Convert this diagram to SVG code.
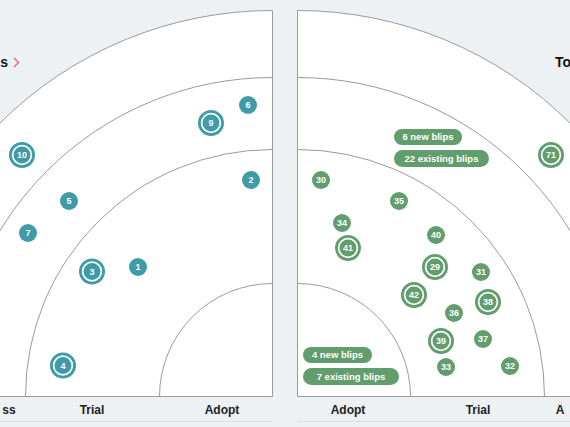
<svg xmlns="http://www.w3.org/2000/svg" width="570" height="427" viewBox="0 0 570 427">
<style>
.bg{fill:#edf1f4}
.panel{fill:#ffffff;stroke:#9a9a9a;stroke-width:1}
.arc{fill:none;stroke:#9a9a9a;stroke-width:1}
.t{fill:#3f9ba8}
.g{fill:#619d6d}
.rt{fill:none;stroke:#3f9ba8;stroke-width:2.8}
.rg{fill:none;stroke:#619d6d;stroke-width:2.8}
.n{font-family:"Liberation Sans",Arial,sans-serif;font-size:9px;font-weight:bold;fill:#ffffff;text-anchor:middle}
.pt{font-family:"Liberation Sans",Arial,sans-serif;font-size:9.5px;font-weight:bold;fill:#ffffff;text-anchor:middle}
.lbl{font-family:"Liberation Sans",Arial,sans-serif;font-size:12px;font-weight:bold;fill:#222222;text-anchor:middle}
.title{font-family:"Liberation Sans",Arial,sans-serif;font-size:14px;font-weight:bold;fill:#111111}
</style>
<rect class="bg" x="0" y="0" width="570" height="427"/>
<line x1="0" y1="421.5" x2="272" y2="421.5" stroke="#dde1e5" stroke-width="1"/>
<line x1="298" y1="421.5" x2="570" y2="421.5" stroke="#dde1e5" stroke-width="1"/>

<g id="quadrant-left">
<path class="panel" d="M272.5,396.5 L-113.5,396.5 A386,386 0 0 1 272.5,10.5 Z"/>
<path class="arc" d="M-46.5,396.5 A319,319 0 0 1 272.5,77.5"/>
<path class="arc" d="M25.5,396.5 A247,247 0 0 1 272.5,149.5"/>
<path class="arc" d="M159.5,396.5 A113,113 0 0 1 272.5,283.5"/>
</g>
<g id="quadrant-right">
<path class="panel" d="M297.5,396.5 L297.5,10.5 A386,386 0 0 1 683.5,396.5 Z"/>
<path class="arc" d="M297.5,77.5 A319,319 0 0 1 616.5,396.5"/>
<path class="arc" d="M297.5,149.5 A247,247 0 0 1 544.5,396.5"/>
<path class="arc" d="M297.5,283.5 A113,113 0 0 1 410.5,396.5"/>
</g>

<g id="title-left">
<text class="title" x="8" y="67" text-anchor="end">s</text>
<polyline points="14,58 18.5,62.5 14,67" fill="none" stroke="#e8607a" stroke-width="1.4"/>
</g>
<g id="title-right">
<text class="title" x="555" y="67">To</text>
</g>

<g id="ring-labels">
<text class="lbl" x="9" y="414" text-anchor="end">ss</text>
<text class="lbl" x="92" y="414">Trial</text>
<text class="lbl" x="222" y="414">Adopt</text>
<text class="lbl" x="348" y="414">Adopt</text>
<text class="lbl" x="478" y="414">Trial</text>
<text class="lbl" x="560" y="414" text-anchor="start">A</text>
</g>

<g id="connectors"></g>

<g id="blip-6"><circle class="t" cx="248" cy="105" r="9"/><text class="n" x="248" y="108.3">6</text></g>
<g id="blip-9"><circle class="rt" cx="211" cy="123" r="11.6"/><circle class="t" cx="211" cy="123" r="8.5"/><text class="n" x="211" y="126.3">9</text></g>
<g id="blip-10"><circle class="rt" cx="22" cy="155" r="11.6"/><circle class="t" cx="22" cy="155" r="8.5"/><text class="n" x="22" y="158.3">10</text></g>
<g id="blip-2"><circle class="t" cx="251" cy="180" r="9"/><text class="n" x="251" y="183.3">2</text></g>
<g id="blip-5"><circle class="t" cx="69" cy="201" r="9"/><text class="n" x="69" y="204.3">5</text></g>
<g id="blip-7"><circle class="t" cx="28" cy="233" r="9"/><text class="n" x="28" y="236.3">7</text></g>
<g id="blip-3"><circle class="rt" cx="92" cy="271.5" r="11.6"/><circle class="t" cx="92" cy="271.5" r="8.5"/><text class="n" x="92" y="274.8">3</text></g>
<g id="blip-1"><circle class="t" cx="138" cy="267" r="9"/><text class="n" x="138" y="270.3">1</text></g>
<g id="blip-4"><circle class="rt" cx="63" cy="365.5" r="11.6"/><circle class="t" cx="63" cy="365.5" r="8.5"/><text class="n" x="63" y="368.8">4</text></g>

<g id="pill-6-new"><rect class="g" x="394" y="129" width="68" height="16" rx="8"/><text class="pt" x="428" y="140.3">6 new blips</text></g>
<g id="pill-22-existing"><rect class="g" x="394" y="150" width="95" height="17" rx="8.5"/><text class="pt" x="441.5" y="161.8">22 existing blips</text></g>
<g id="pill-4-new"><rect class="g" x="303" y="347" width="69" height="16" rx="8"/><text class="pt" x="337.5" y="358.3">4 new blips</text></g>
<g id="pill-7-existing"><rect class="g" x="303" y="368" width="96" height="17" rx="8.5"/><text class="pt" x="351" y="379.8">7 existing blips</text></g>

<g id="blip-71"><circle class="rg" cx="551" cy="155" r="11.6"/><circle class="g" cx="551" cy="155" r="8.5"/><text class="n" x="551" y="158.3">71</text></g>
<g id="blip-30"><circle class="g" cx="321" cy="180" r="9"/><text class="n" x="321" y="183.3">30</text></g>
<g id="blip-35"><circle class="g" cx="399" cy="201" r="9"/><text class="n" x="399" y="204.3">35</text></g>
<g id="blip-34"><circle class="g" cx="342" cy="223" r="9"/><text class="n" x="342" y="226.3">34</text></g>
<g id="blip-41"><circle class="rg" cx="348" cy="248" r="11.6"/><circle class="g" cx="348" cy="248" r="8.5"/><text class="n" x="348" y="251.3">41</text></g>
<g id="blip-40"><circle class="g" cx="436" cy="235" r="9"/><text class="n" x="436" y="238.3">40</text></g>
<g id="blip-29"><circle class="rg" cx="435" cy="267" r="11.6"/><circle class="g" cx="435" cy="267" r="8.5"/><text class="n" x="435" y="270.3">29</text></g>
<g id="blip-31"><circle class="g" cx="481" cy="272" r="9"/><text class="n" x="481" y="275.3">31</text></g>
<g id="blip-42"><circle class="rg" cx="414" cy="295" r="11.6"/><circle class="g" cx="414" cy="295" r="8.5"/><text class="n" x="414" y="298.3">42</text></g>
<g id="blip-38"><circle class="rg" cx="488" cy="302" r="11.6"/><circle class="g" cx="488" cy="302" r="8.5"/><text class="n" x="488" y="305.3">38</text></g>
<g id="blip-36"><circle class="g" cx="454" cy="313" r="9"/><text class="n" x="454" y="316.3">36</text></g>
<g id="blip-39"><circle class="rg" cx="441" cy="341" r="11.6"/><circle class="g" cx="441" cy="341" r="8.5"/><text class="n" x="441" y="344.3">39</text></g>
<g id="blip-37"><circle class="g" cx="483" cy="339" r="9"/><text class="n" x="483" y="342.3">37</text></g>
<g id="blip-33"><circle class="g" cx="446" cy="367" r="9"/><text class="n" x="446" y="370.3">33</text></g>
<g id="blip-32"><circle class="g" cx="510" cy="366" r="9"/><text class="n" x="510" y="369.3">32</text></g>
</svg>
